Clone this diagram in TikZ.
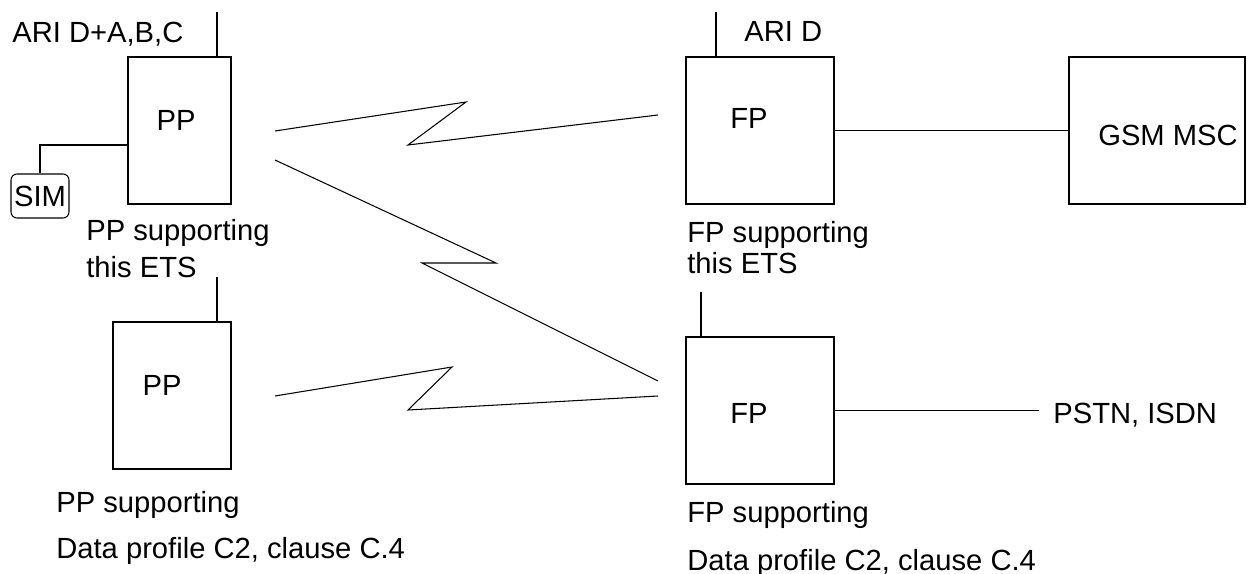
\documentclass[tikz,border=0pt]{standalone}
\usepackage{fontspec}
\setmainfont{Liberation Sans}
\usetikzlibrary{positioning, calc}

\begin{document}
\begin{tikzpicture}[x=0.2mm, y=-0.2mm,
    every node/.style={font=\fontsize{16.6}{20}\selectfont},
    unit/.style={draw, line width=0.6pt, inner sep=0pt, minimum height=29.4mm},
    antenna/.style={line width=1.1pt},
    link/.style={line width=0.6pt, line join=miter},
    caption/.style={anchor=north west, inner sep=0pt, align=left}]
  \useasboundingbox (0,0) rectangle (1249,574);

  % portable parts
  \node[unit, minimum width=20.6mm, label={[shift={(-3.5,-10.5)}]center:PP}] (pp1) at (179.5,130.5) {};
  \node[unit, minimum width=23.6mm, label={[shift={(-10,-10.5)}]center:PP}] (pp2) at (172,395.5) {};
  \node[draw, line width=0.6pt, rounded corners=1.2mm, minimum width=11.6mm, minimum height=8.8mm, inner sep=0pt] (sim) at (40,196) {SIM};

  % fixed parts and network
  \node[unit, minimum width=29.6mm, label={[shift={(-11,-12.5)}]center:FP}] (fp1) at (760,130.5) {};
  \node[unit, minimum width=29.6mm, label={[shift={(-11,2.5)}]center:FP}] (fp2) at (760,410.5) {};
  \node[unit, minimum width=35.2mm, label={[shift={(11,4.5)}]center:GSM MSC}] (gsm) at (1157,130.5) {};
  \node[anchor=west, inner sep=0pt] (pstn) at (1053,415) {PSTN, ISDN};

  % captions
  \node[caption] (ari1) at (12,21.5) {ARI D+A,B,C};
  \node[caption] (ari2) at (744,21.5) {ARI D};
  \node[caption] (pp1cap) at (86,219.5) {PP supporting\\[1pt]this ETS};
  \node[caption] (fp1cap) at (687,221.5) {FP supporting\\[-2.4pt]this ETS};
  \node[caption] (pp2cap) at (56,491.5) {PP supporting\\[6pt]Data profile C2, clause C.4};
  \node[caption] (fp2cap) at (687,501.5) {FP supporting\\[7pt]Data profile C2, clause C.4};

  % antennas
  \coordinate (pp1ant) at (217,12);
  \coordinate (pp2ant) at (217,277);
  \coordinate (fp1ant) at (716,12);
  \coordinate (fp2ant) at (701,292);
  \draw[antenna] (pp1.north -| pp1ant) -- (pp1ant);
  \draw[antenna] (pp2.north -| pp2ant) -- (pp2ant);
  \draw[antenna] (fp1.north -| fp1ant) -- (fp1ant);
  \draw[antenna] (fp2.north -| fp2ant) -- (fp2ant);

  % wires
  \draw[line width=0.6pt] (sim.north) |- ([yshift=-2.9mm]pp1.west);
  \draw[line width=0.6pt] (fp1) -- (gsm);
  \draw[line width=0.6pt] (fp2.east) -- ([xshift=-2.8mm]fp2.east -| pstn.west);

  % radio links
  \coordinate (ra1) at (275,131);
  \coordinate (ra2) at (466,102);
  \coordinate (ra3) at (408,145);
  \coordinate (ra4) at (658,115);
  \draw[link] (ra1) -- (ra2) -- (ra3) -- (ra4);
  \coordinate (rb1) at (275,160);
  \coordinate (rb2) at (496,263);
  \coordinate (rb3) at (422,263);
  \coordinate (rb4) at (658,381);
  \draw[link] (rb1) -- (rb2) -- (rb3) -- (rb4);
  \coordinate (rc1) at (275,396);
  \coordinate (rc2) at (452,367);
  \coordinate (rc3) at (408,410);
  \coordinate (rc4) at (658,396);
  \draw[link] (rc1) -- (rc2) -- (rc3) -- (rc4);
\end{tikzpicture}
\end{document}
